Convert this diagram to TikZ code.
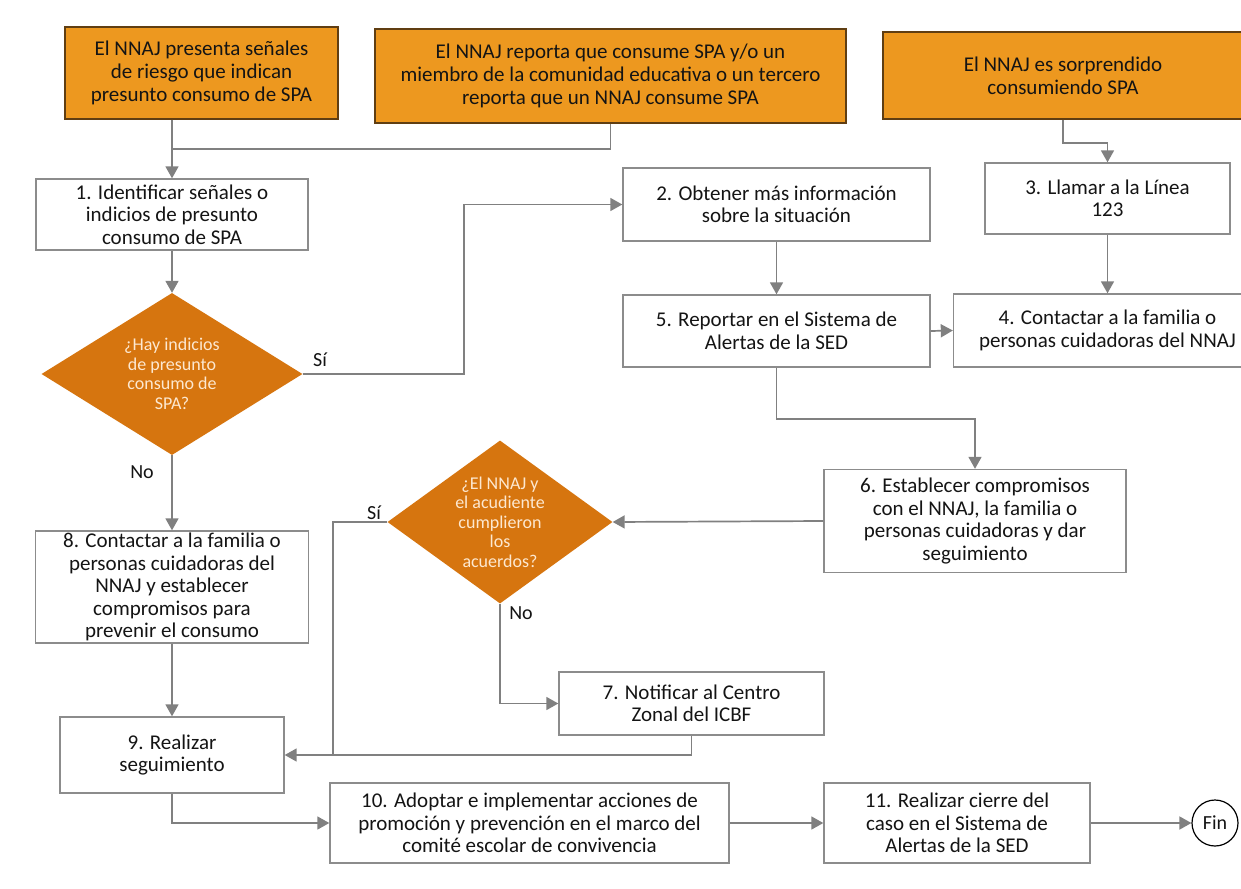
\documentclass[tikz,border=0pt]{standalone}
\usepackage{fontspec}
\setmainfont{Carlito}
\usetikzlibrary{arrows.meta,shapes.geometric}
\definecolor{EventOrange}{RGB}{237,152,31}
\definecolor{EventEdge}{RGB}{96,62,18}
\definecolor{QueryOrange}{RGB}{214,117,15}
\definecolor{QueryText}{RGB}{253,232,208}
\definecolor{TaskEdge}{RGB}{140,140,140}
\definecolor{FlowGray}{RGB}{128,128,128}
\definecolor{InkText}{RGB}{20,20,20}

\begin{document}
\begin{tikzpicture}[x=1pt, y=-1pt,
        event/.style={draw=EventEdge, line width=1.3pt, fill=EventOrange, text=InkText,
                    align=center, inner sep=2pt, font=\fontsize{21}{23}\selectfont},
    task/.style={draw=TaskEdge, line width=1.4pt, fill=white, text=InkText,
                    align=center, inner sep=0pt, font=\fontsize{21}{22.5}\selectfont},
    query/.style={diamond, fill=QueryOrange, text=QueryText, align=center, inner sep=0pt,
                    font=\fontsize{18}{19.5}\selectfont},
    finish/.style={circle, draw=black, line width=1.2pt, fill=white, minimum size=46pt,
                    inner sep=0pt, text=InkText, font=\fontsize{20}{22}\selectfont},
    tag/.style={text=InkText, font=\fontsize{20}{22}\selectfont},
    link/.style={draw=FlowGray, line width=1.7pt},
        arr/.style={link, -{Triangle[length=12pt, width=13pt]}}
]
    \useasboundingbox (0,0) rectangle (1241,888);
    \fill[white] (0,0) rectangle (1241,888);

    % situations that start the route
    \node[event, minimum width=273pt, minimum height=92pt] (sig) at (201.5,73) {El NNAJ presenta señales\\de riesgo que indican\\presunto consumo de SPA};
    \node[event, minimum width=471pt, minimum height=94pt] (rep) at (610.5,76) {El NNAJ reporta que consume SPA y/o un\\miembro de la comunidad educativa o un tercero\\reporta que un NNAJ consume SPA};
    \node[event, minimum width=360pt, minimum height=87pt] (caught) at (1063,75.5) {El NNAJ es sorprendido\\consumiendo SPA};

    % steps
    \node[task, minimum width=272pt, minimum height=71pt] (s1) at (172,214.5) {1. Identificar señales o\\indicios de presunto\\consumo de SPA};
    \node[task, minimum width=307pt, minimum height=73pt] (s2) at (776.5,204.5) {2. Obtener más información\\sobre la situación};
    \node[task, minimum width=245pt, minimum height=71pt] (s3) at (1107.5,198.5) {3. Llamar a la Línea\\123};
    \node[task, minimum width=308pt, minimum height=73pt] (s4) at (1107.5,330.5) {4. Contactar a la familia o\\personas cuidadoras del NNAJ};
    \node[task, minimum width=307pt, minimum height=72pt] (s5) at (776.5,331) {5. Reportar en el Sistema de\\Alertas de la SED};
    \node[task, minimum width=302pt, minimum height=103pt] (s6) at (975,521) {6. Establecer compromisos\\con el NNAJ, la familia o\\personas cuidadoras y dar\\seguimiento};
    \node[task, minimum width=265pt, minimum height=63pt] (s7) at (691.5,703.5) {7. Notificar al Centro\\Zonal del ICBF};
    \node[task, minimum width=273pt, minimum height=112pt] (s8) at (172,587) {8. Contactar a la familia o\\personas cuidadoras del\\NNAJ y establecer\\compromisos para\\prevenir el consumo};
    \node[task, minimum width=224pt, minimum height=76pt] (s9) at (172,755) {9. Realizar\\seguimiento};
    \node[task, minimum width=399pt, minimum height=80pt] (s10) at (529.5,823) {10. Adoptar e implementar acciones de\\promoción y prevención en el marco del\\comité escolar de convivencia};
    \node[task, minimum width=266pt, minimum height=80pt] (s11) at (957,823) {11. Realizar cierre del\\caso en el Sistema de\\Alertas de la SED};
    \node[finish] (fin) at (1215,823) {Fin};

    % decisions
    \node[query, aspect=1.6, minimum width=261pt, minimum height=162pt] (q1) at (172,374) {¿Hay indicios\\de presunto\\consumo de\\SPA?};
    \node[query, aspect=1.38, minimum width=225pt, minimum height=163pt] (q2) at (500,522) {¿El NNAJ y\\el acudiente\\cumplieron\\los\\acuerdos?};

    \coordinate (j1) at (172,149);
    \coordinate (j2) at (334,755);

    \draw[arr] (sig.south -| s1.north) -- (s1.north);
    \draw[link] (rep.south) |- (j1);
    \draw[arr] (caught.south) -- ++(0,23) -| (s3.north);
    \draw[arr] (s1.south) -- (q1.north);
    \draw[arr] (q1.east) -- ++(161,0) |- (s2.west);
    \draw[arr] (q1.south) -- (s8.north);
    \draw[arr] (s2.south) -- (s5.north);
    \draw[arr] (s3.south) -- (s4.north);
    \draw[arr] (s5.east) -- (s4.west);
    \draw[arr] (s5.south) -- ++(0,51) -| (s6.north);
    \draw[arr] (s6.west) -- (q2.east);
    \draw[arr] (q2.west) -- ++(-54,0) |- (s9.east);
    \draw[arr] (q2.south) |- (s7.west);
    \draw[link] (s7.south) |- (j2);
    \draw[arr] (s8.south) -- (s9.north);
    \draw[arr] (s9.south) |- (s10.west);
    \draw[arr] (s10.east) -- (s11.west);
    \draw[arr] (s11.east) -- (fin.west);

    % answers
    \node[tag] (yes1) at (320,360) {Sí};
    \node[tag] (no1) at (142,472) {No};
    \node[tag] (yes2) at (374,513) {Sí};
    \node[tag] (no2) at (521,613) {No};
\end{tikzpicture}
\end{document}
